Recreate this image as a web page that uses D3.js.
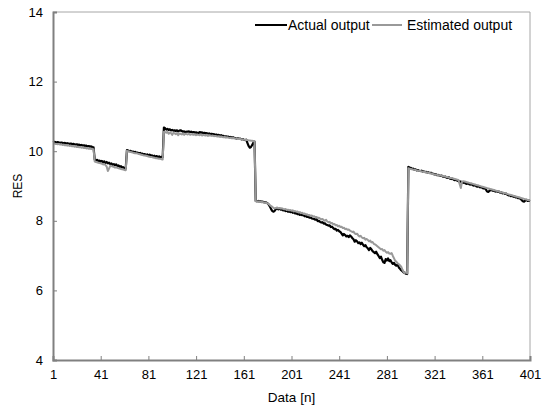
<!DOCTYPE html>
<html>
<head>
<meta charset="utf-8">
<script src="https://cdn.jsdelivr.net/npm/d3@7/dist/d3.min.js"></script>
<style>
  html, body { margin: 0; padding: 0; background: #fff; }
  svg { display: block; font-family: "Liberation Sans", Arial, sans-serif; }
</style>
</head>
<body>
<svg id="chart" width="548" height="412"></svg>
<script>
// Sample index runs 1..401; one value per sample.
const xTicks = [1, 41, 81, 121, 161, 201, 241, 281, 321, 361, 401];
const yTicks = [4, 6, 8, 10, 12, 14];

const actualOutput = [
  // 1-35
  10.26,10.27,10.26,10.25,10.26,10.25,10.24,10.25,10.24,10.23,
  10.24,10.22,10.23,10.22,10.21,10.22,10.20,10.21,10.20,10.19,
  10.20,10.18,10.19,10.17,10.18,10.16,10.17,10.15,10.16,10.14,
  10.15,10.13,10.14,10.12,10.11,
  // 36-62
  9.76,9.74,9.75,9.72,9.73,9.70,9.72,9.68,9.71,9.66,
  9.69,9.65,9.67,9.63,9.65,9.61,9.63,9.60,9.62,9.57,
  9.59,9.55,9.57,9.53,9.54,9.51,9.50,
  // 63-93
  10.03,10.02,10.00,10.01,9.98,9.99,9.97,9.98,9.95,9.96,
  9.94,9.95,9.92,9.93,9.91,9.92,9.89,9.91,9.88,9.90,
  9.87,9.88,9.85,9.87,9.84,9.86,9.83,9.85,9.82,9.84,9.83,
  // 94-170
  10.68,10.66,10.62,10.64,10.61,10.63,10.60,10.61,10.59,10.60,
  10.58,10.60,10.57,10.59,10.60,10.58,10.56,10.57,10.55,10.56,
  10.56,10.57,10.55,10.56,10.54,10.55,10.53,10.54,10.53,10.52,
  10.55,10.53,10.54,10.52,10.53,10.51,10.52,10.50,10.51,10.49,
  10.50,10.48,10.49,10.47,10.48,10.46,10.47,10.45,10.46,10.44,
  10.44,10.42,10.43,10.41,10.42,10.40,10.41,10.39,10.40,10.38,
  10.38,10.36,10.37,10.35,10.36,10.34,10.35,10.33,10.32,10.33,
  10.24,10.15,10.10,10.12,10.18,10.24,10.27,
  // 171-298
  8.57,8.56,8.57,8.55,8.56,8.54,8.55,8.53,8.54,8.52,
  8.50,8.46,8.40,8.33,8.28,8.26,8.29,8.34,8.36,8.33,
  8.35,8.32,8.33,8.30,8.31,8.28,8.29,8.26,8.27,8.25,
  8.26,8.23,8.24,8.21,8.22,8.19,8.20,8.17,8.18,8.16,
  8.16,8.13,8.14,8.11,8.12,8.09,8.10,8.07,8.06,8.05,
  8.03,8.04,7.99,8.00,7.97,7.95,7.96,7.92,7.93,7.89,
  7.88,7.86,7.87,7.82,7.83,7.79,7.76,7.77,7.72,7.74,
  7.70,7.68,7.63,7.58,7.62,7.59,7.55,7.57,7.53,7.58,
  7.55,7.50,7.47,7.40,7.44,7.41,7.36,7.38,7.33,7.37,
  7.31,7.27,7.30,7.24,7.21,7.16,7.22,7.18,7.13,7.10,
  7.07,7.11,7.04,6.99,6.93,6.97,6.88,6.81,6.79,6.90,
  6.86,6.92,6.84,6.87,6.80,6.76,6.79,6.73,6.71,6.74,
  6.66,6.62,6.58,6.55,6.52,6.50,6.48,6.47,
  // 299-401
  9.55,9.53,9.52,9.49,9.50,9.47,9.48,9.45,9.46,9.44,
  9.43,9.44,9.41,9.42,9.40,9.41,9.38,9.39,9.37,9.38,
  9.36,9.35,9.33,9.34,9.31,9.32,9.30,9.29,9.30,9.27,
  9.26,9.27,9.24,9.23,9.25,9.21,9.20,9.21,9.18,9.17,
  9.18,9.15,9.14,9.12,9.13,9.10,9.09,9.11,9.07,9.06,
  9.08,9.05,9.04,9.06,9.02,9.01,9.03,8.99,8.98,9.00,
  8.96,8.97,8.95,8.93,8.94,8.90,8.84,8.83,8.86,8.89,
  8.88,8.86,8.87,8.84,8.85,8.83,8.84,8.81,8.82,8.79,
  8.80,8.77,8.78,8.75,8.73,8.74,8.71,8.72,8.69,8.70,
  8.67,8.68,8.65,8.66,8.63,8.60,8.56,8.55,8.58,8.60,
  8.57,8.58,8.57
];

const estimatedOutput = [
  // 1-35
  10.22,10.22,10.21,10.21,10.20,10.21,10.19,10.20,10.18,10.19,
  10.17,10.18,10.16,10.17,10.15,10.16,10.14,10.15,10.13,10.14,
  10.12,10.13,10.11,10.12,10.10,10.11,10.09,10.10,10.08,10.09,
  10.07,10.08,10.06,10.07,10.05,
  // 36-62
  9.70,9.69,9.68,9.67,9.66,9.65,9.64,9.62,9.63,9.60,
  9.56,9.43,9.50,9.58,9.57,9.56,9.55,9.53,9.54,9.52,
  9.51,9.50,9.49,9.48,9.47,9.46,9.45,
  // 63-93
  10.01,10.00,9.99,9.98,9.97,9.96,9.95,9.94,9.94,9.93,
  9.92,9.91,9.90,9.89,9.88,9.88,9.87,9.86,9.85,9.84,
  9.83,9.83,9.82,9.81,9.80,9.80,9.79,9.78,9.78,9.77,9.76,
  // 94-170
  10.56,10.55,10.53,10.56,10.50,10.54,10.52,10.47,10.53,10.51,
  10.49,10.52,10.46,10.51,10.50,10.48,10.51,10.47,10.50,10.49,
  10.48,10.50,10.47,10.49,10.48,10.47,10.49,10.46,10.48,10.47,
  10.46,10.48,10.45,10.47,10.46,10.45,10.47,10.44,10.46,10.45,
  10.44,10.45,10.43,10.44,10.43,10.42,10.43,10.41,10.42,10.41,
  10.40,10.41,10.39,10.40,10.39,10.38,10.39,10.37,10.38,10.37,
  10.36,10.37,10.35,10.36,10.35,10.34,10.34,10.33,10.33,10.32,
  10.32,10.31,10.31,10.30,10.30,10.29,10.29,
  // 171-298
  8.56,8.55,8.56,8.54,8.55,8.53,8.54,8.52,8.53,8.51,
  8.50,8.48,8.45,8.42,8.40,8.37,8.36,8.37,8.38,8.36,
  8.37,8.35,8.36,8.34,8.33,8.34,8.31,8.32,8.30,8.31,
  8.29,8.30,8.27,8.28,8.26,8.27,8.24,8.25,8.22,8.23,
  8.20,8.21,8.18,8.19,8.16,8.17,8.14,8.15,8.12,8.13,
  8.10,8.11,8.08,8.09,8.06,8.04,8.05,8.02,8.00,8.03,
  7.98,7.96,7.97,7.93,7.94,7.90,7.91,7.87,7.88,7.84,
  7.86,7.82,7.83,7.79,7.80,7.76,7.77,7.74,7.75,7.72,
  7.70,7.68,7.69,7.64,7.62,7.63,7.58,7.55,7.57,7.52,
  7.50,7.51,7.46,7.48,7.45,7.41,7.43,7.38,7.39,7.34,
  7.32,7.30,7.27,7.24,7.21,7.18,7.19,7.14,7.16,7.11,
  7.08,7.10,7.06,7.05,7.07,6.99,6.92,6.85,6.82,6.78,
  6.75,6.72,6.68,6.60,6.53,6.50,6.52,6.49,
  // 299-401
  9.51,9.50,9.49,9.48,9.47,9.47,9.46,9.45,9.44,9.44,
  9.43,9.42,9.41,9.40,9.40,9.39,9.38,9.37,9.37,9.36,
  9.35,9.34,9.33,9.33,9.32,9.31,9.30,9.30,9.29,9.28,
  9.27,9.27,9.26,9.25,9.24,9.23,9.23,9.22,9.21,9.20,
  9.19,9.18,9.17,9.06,8.94,9.12,9.14,9.13,9.12,9.11,
  9.10,9.09,9.08,9.07,9.06,9.05,9.04,9.03,9.02,9.01,
  9.00,8.99,8.98,8.97,8.96,8.95,8.94,8.93,8.92,8.91,
  8.90,8.89,8.88,8.87,8.86,8.85,8.84,8.83,8.82,8.81,
  8.80,8.79,8.78,8.77,8.76,8.75,8.74,8.73,8.72,8.71,
  8.70,8.69,8.68,8.67,8.66,8.65,8.64,8.63,8.62,8.61,
  8.60,8.59,8.58
];

const seriesNames = ["Actual output", "Estimated output"];
const seriesColors = ["#000000", "#999999"];

const svg = d3.select("#chart");
const margin = { left: 53, top: 12, right: 18, bottom: 52 };
const W = 548, H = 412;
const plotW = W - margin.left - margin.right;
const plotH = H - margin.top - margin.bottom;

const x = d3.scaleLinear().domain([1, 401]).range([margin.left, margin.left + plotW]);
const y = d3.scaleLinear().domain([4, 14]).range([margin.top + plotH, margin.top]);

// Plot frame: light top/right border
svg.append("path")
  .attr("d", `M${x(1)},${y(14)}H${x(401)}V${y(4)}`)
  .attr("fill", "none").attr("stroke", "#a6a6a6").attr("stroke-width", 1);

const line = d3.line()
  .x((d, i) => x(i + 1))
  .y(d => y(d));

[actualOutput, estimatedOutput].forEach((vals, k) => {
  svg.append("path")
    .datum(vals)
    .attr("d", line)
    .attr("fill", "none")
    .attr("stroke", seriesColors[k])
    .attr("stroke-width", k === 0 ? 2.2 : 2)
    .attr("stroke-linejoin", "round");
});

// Axes with inward ticks
const xAxis = d3.axisBottom(x).tickValues(xTicks).tickSize(-4).tickPadding(10).tickFormat(d3.format("d"));
const yAxis = d3.axisLeft(y).tickValues(yTicks).tickSize(-4).tickPadding(10).tickFormat(d3.format("d"));

const gx = svg.append("g").attr("transform", `translate(0,${y(4)})`).call(xAxis);
const gy = svg.append("g").attr("transform", `translate(${x(1)},0)`).call(yAxis);

[gx, gy].forEach(g => {
  g.select(".domain").attr("stroke", "#808080").attr("stroke-width", 2);
  g.selectAll(".tick line").attr("stroke", "#808080").attr("stroke-width", 1);
  g.selectAll(".tick text").attr("fill", "#000").style("font-size", "13px")
    .style("font-family", "'Liberation Sans', Arial, sans-serif");
});

// Axis titles
svg.append("text")
  .attr("x", (x(1) + x(401)) / 2).attr("y", 402)
  .attr("text-anchor", "middle").style("font-size", "13.5px")
  .text("Data [n]");

svg.append("text")
  .attr("transform", `translate(22,${(y(4) + y(14)) / 2}) rotate(-90)`)
  .attr("text-anchor", "middle").style("font-size", "12px")
  .text("RES");

// Legend
const legendItems = [
  { x0: 255, x1: 287, tx: 288 },
  { x0: 372, x1: 402, tx: 407 }
];
legendItems.forEach((it, k) => {
  svg.append("line")
    .attr("x1", it.x0).attr("x2", it.x1).attr("y1", 25).attr("y2", 25)
    .attr("stroke", seriesColors[k]).attr("stroke-width", 2);
  svg.append("text")
    .attr("x", it.tx).attr("y", 30)
    .style("font-size", "14px")
    .text(seriesNames[k]);
});
</script>
</body>
</html>
